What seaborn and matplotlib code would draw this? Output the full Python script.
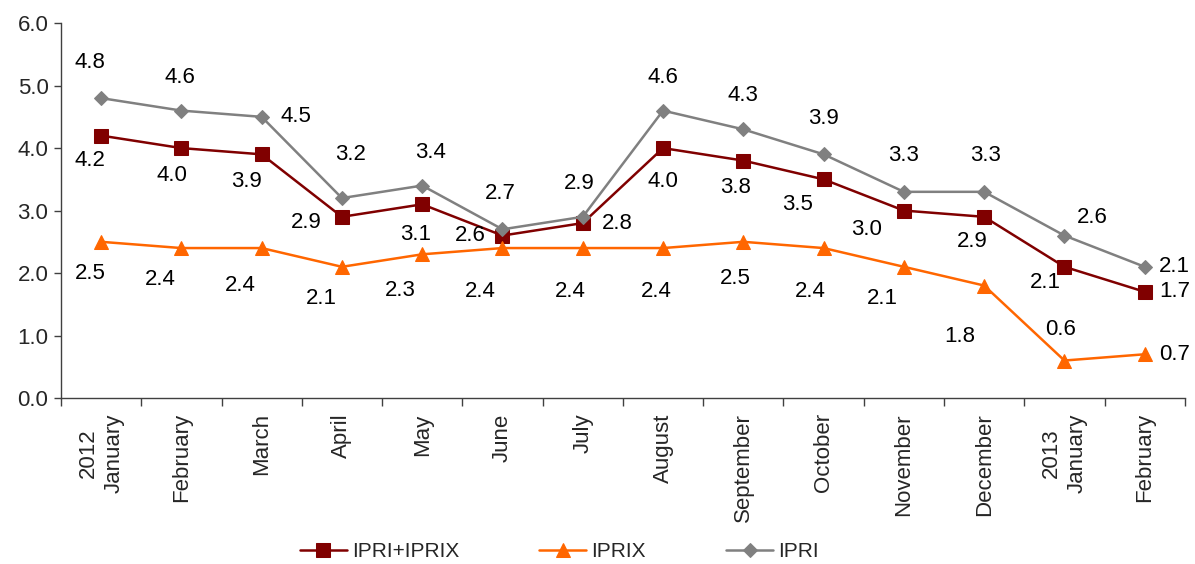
import pandas as pd
import numpy as np
import seaborn as sns
import matplotlib.pyplot as plt

## Data
months = ['2012\nJanuary', 'February', 'March', 'April', 'May', 'June', 'July',
          'August', 'September', 'October', 'November', 'December',
          '2013\nJanuary', 'February']
ipri_iprix = [4.2, 4.0, 3.9, 2.9, 3.1, 2.6, 2.8, 4.0, 3.8, 3.5, 3.0, 2.9, 2.1, 1.7]
iprix = [2.5, 2.4, 2.4, 2.1, 2.3, 2.4, 2.4, 2.4, 2.5, 2.4, 2.1, 1.8, 0.6, 0.7]
ipri = [4.8, 4.6, 4.5, 3.2, 3.4, 2.7, 2.9, 4.6, 4.3, 3.9, 3.3, 3.3, 2.6, 2.1]

# where each value label sits relative to its point (pixels)
off_sum = [(-11, -25), (-9, -27), (-15, -27), (-36, -6), (-7, -30), (-32, 0), (35, 0),
           (0, -33), (-8, -27), (-26, -25), (-37, -19), (-12, -25), (-19, -16), (30, 0)]
off_iprix = [(-11, -32), (-21, -31), (-21, -37), (-21, -32), (-22, -36), (-22, -43), (-12, -43),
             (-7, -43), (-8, -37), (-13, -43), (-21, -32), (-24, -51), (-4, 31), (30, 0)]
off_ipri = [(-11, 36), (-1, 33), (34, 0), (9, 44), (8, 33), (-2, 36), (-4, 33),
            (0, 33), (0, 34), (0, 36), (0, 36), (1, 36), (28, 18), (30, 0)]

df = pd.DataFrame({'pos': range(len(months)), 'IPRI+IPRIX': ipri_iprix,
                   'IPRIX': iprix, 'IPRI': ipri})

sns.set_style('white')
plt.rcParams['font.family'] = ['Liberation Sans', 'DejaVu Sans']
fs = 16

fig = plt.figure(figsize=(11.95, 5.64), dpi=100)
ax = fig.add_axes([0.051, 0.2943, 0.9405, 0.6647])

series = [('IPRI+IPRIX', '#800000', 's', 9.5, off_sum),
          ('IPRIX', '#FF6600', '^', 10.5, off_iprix),
          ('IPRI', '#808080', 'D', 7, off_ipri)]

for name, color, marker, ms, offs in series:
    sns.lineplot(data=df, x='pos', y=name, ax=ax, color=color, marker=marker,
                 markersize=ms, markeredgecolor=color, linewidth=1.8, label=name)
    for x, y, (dx, dy) in zip(df['pos'], df[name], offs):
        ax.annotate(f'{y:.1f}', (x, y), xytext=(dx, dy), textcoords='offset pixels',
                    ha='center', va='center', fontsize=fs, color='black')

ax.set_ylim(0, 6)
ax.set_yticks(np.arange(0, 6.1, 1.0))
ax.set_yticklabels([f'{v:.1f}' for v in np.arange(0, 6.1, 1.0)])
ax.set_xlim(-0.5, len(months) - 0.5)
ax.set_xticks(range(len(months)))
ax.set_xticklabels(months, rotation=90, ha='center', va='top', linespacing=1.3)
ax.set_xticks(np.arange(-0.5, len(months), 1), minor=True)
ax.tick_params(axis='x', which='major', length=0, pad=11, labelsize=fs)
ax.tick_params(axis='x', which='minor', length=6, width=1, color='#404040', bottom=True)
ax.tick_params(axis='y', length=5, width=1, color='#404040', left=True, labelsize=fs, pad=4)
ax.set_xlabel('')
ax.set_ylabel('')

sns.despine(ax=ax)
for s in ['left', 'bottom']:
    ax.spines[s].set_color('#404040')
    ax.spines[s].set_linewidth(1)

ax.get_legend().remove()
handles, labels = ax.get_legend_handles_labels()
fig.legend(handles, labels, loc='center', bbox_to_anchor=(0.468, 0.022), ncol=3,
           frameon=False, fontsize=15, handlelength=2.25, columnspacing=3.85,
           handletextpad=0.25)

fig.savefig('out.png', dpi=100)
